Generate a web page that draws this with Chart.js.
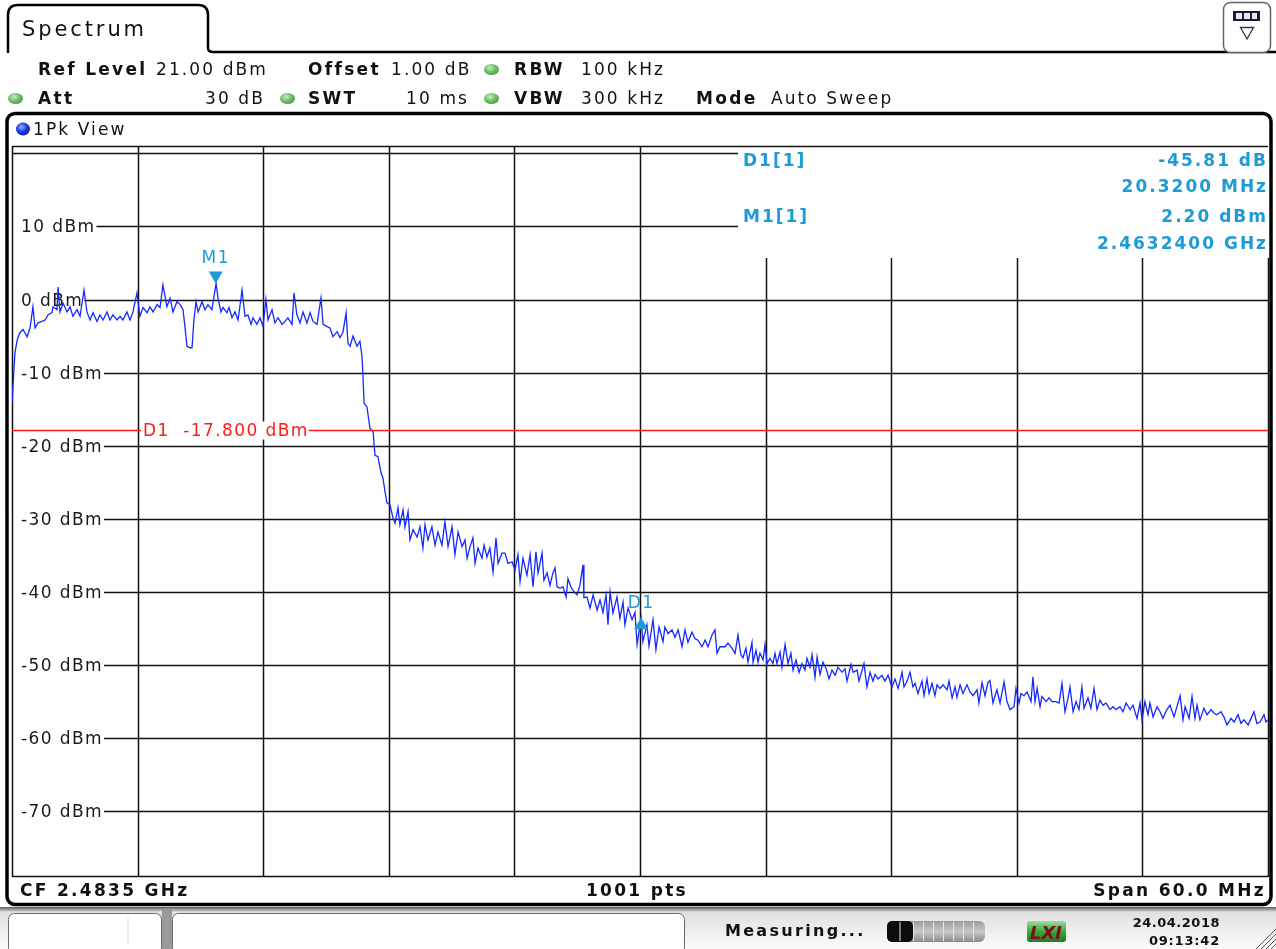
<!DOCTYPE html>
<html><head><meta charset="utf-8">
<script src="https://cdn.jsdelivr.net/npm/chart.js@4.4.1/dist/chart.umd.min.js"></script>
<style>
html,body{margin:0;padding:0;background:#fff;width:1276px;height:949px;overflow:hidden;font-family:"DejaVu Sans",sans-serif;}
#chrome,#cv,#txt{position:absolute;left:0;top:0;}
#txt{width:1276px;height:949px;pointer-events:none;}
.t{position:absolute;font-size:17px;letter-spacing:2.1px;line-height:20px;height:20px;color:#111;white-space:nowrap;}
.b{font-weight:bold;letter-spacing:2.3px;}
.dot{position:absolute;width:15px;height:11px;border-radius:50%;background:radial-gradient(ellipse at 40% 35%,#c8ecc4 0%,#6cbc66 45%,#3c8a38 100%);}
</style></head>
<body>
<svg id="chrome" width="1276" height="949">
  <defs>
    <linearGradient id="bar" x1="0" y1="0" x2="0" y2="1">
      <stop offset="0" stop-color="#5a5a5a"/><stop offset="0.12" stop-color="#e0e0e0"/><stop offset="1" stop-color="#fbfbfb"/>
    </linearGradient>
    <linearGradient id="prog" x1="0" y1="0" x2="0" y2="1">
      <stop offset="0" stop-color="#9a9a9a"/><stop offset="0.5" stop-color="#c9c9c9"/><stop offset="1" stop-color="#8a8a8a"/>
    </linearGradient>
    <linearGradient id="lxi" x1="0" y1="0" x2="0" y2="1">
      <stop offset="0" stop-color="#9be09b"/><stop offset="0.5" stop-color="#3aa93a"/><stop offset="1" stop-color="#1f7d1f"/>
    </linearGradient>
    <radialGradient id="bdot" cx="0.4" cy="0.35" r="0.7">
      <stop offset="0" stop-color="#9db4ff"/><stop offset="0.5" stop-color="#1f3cf0"/><stop offset="1" stop-color="#0a1a9a"/>
    </radialGradient>
  </defs>
  <path d="M8,53 V15 Q8,5 18,5 H198 Q208,5 208,15 V48 Q208,52 213,52 H1276" fill="none" stroke="#000" stroke-width="2.5"/>
  <rect x="1223.5" y="2.5" width="47" height="50" rx="7" fill="#fff" stroke="#666" stroke-width="1.5"/>
  <rect x="1233" y="11" width="27" height="10" fill="#1a1a3a"/>
  <rect x="1236" y="13" width="6" height="6" fill="#e8e8f0"/>
  <rect x="1244" y="13" width="6" height="6" fill="#e8e8f0"/>
  <rect x="1252" y="13" width="5" height="6" fill="#e8e8f0"/>
  <path d="M1240.5,27.5 H1253.5 L1247,39 Z" fill="#fff" stroke="#334" stroke-width="1.3"/>
  <rect x="7" y="113.5" width="1264" height="791" rx="8" fill="none" stroke="#000" stroke-width="3.5"/>
  <ellipse cx="23" cy="129" rx="7" ry="6.5" fill="url(#bdot)"/>
  <rect x="0" y="907" width="1276" height="42" fill="url(#bar)"/>
  <rect x="162" y="910" width="10" height="39" fill="#9a9a9a"/>
  <rect x="8.5" y="913.5" width="153" height="40" rx="6" fill="#fff" stroke="#6a6a6a"/>
  <line x1="128" y1="918" x2="128" y2="945" stroke="#d8d8d8"/>
  <rect x="172.5" y="913.5" width="512" height="40" rx="6" fill="#fff" stroke="#6a6a6a"/>
  <rect x="887" y="921" width="98" height="21" rx="6" fill="url(#prog)"/>
  <rect x="887" y="921" width="26" height="21" rx="5" fill="#0c0c0c"/>
  <g stroke="#e6e6e6" stroke-width="1">
    <line x1="900" y1="922" x2="900" y2="941"/><line x1="913.5" y1="922" x2="913.5" y2="941"/>
    <line x1="923.5" y1="922" x2="923.5" y2="941"/><line x1="933.5" y1="922" x2="933.5" y2="941"/>
    <line x1="943.5" y1="922" x2="943.5" y2="941"/><line x1="953.5" y1="922" x2="953.5" y2="941"/>
    <line x1="963.5" y1="922" x2="963.5" y2="941"/><line x1="973.5" y1="922" x2="973.5" y2="941"/>
  </g>
  <rect x="1027" y="921" width="39" height="21" rx="3" fill="url(#lxi)"/>
  <text x="1046" y="939" text-anchor="middle" font-family="DejaVu Sans" font-weight="bold" font-style="italic" font-size="18" fill="#7a1020">LXI</text>
  <g stroke="#555" stroke-width="1">
    <line x1="1256" y1="949" x2="1276" y2="929"/><line x1="1261" y1="949" x2="1276" y2="934"/>
    <line x1="1266" y1="949" x2="1276" y2="939"/><line x1="1271" y1="949" x2="1276" y2="944"/>
  </g>
</svg>
<canvas id="cv" width="1276" height="949"></canvas>
<div id="txt"></div>
<script>
// ---- instrument settings ----
const startFreqGHz = 2.4535;
const spanMHz = 60;
const refLevelDbm = 21;
const bottomLevelDbm = -79;
const displayLineDbm = -17.8;

// ---- grid / tick labels ----
const xGridMHz = [0, 6, 12, 18, 24, 30, 36, 42, 48, 54, 60];
const yGridDbm = [20, 10, 0, -10, -20, -30, -40, -50, -60, -70];
const yTickLabels = ['', '10 dBm', '0 dBm', '-10 dBm', '-20 dBm', '-30 dBm', '-40 dBm', '-50 dBm', '-60 dBm', '-70 dBm'];

// ---- trace (1Pk, offset from start frequency in MHz, level in dBm) ----
const freqOffsetMHz = [
0.00,0.14,0.25,0.38,0.53,0.72,0.86,1.00,1.10,1.24,1.43,1.58,1.72,1.91,1.96,2.15,2.20,2.29,2.44,2.63,2.77,2.91,3.11,3.25,3.44,3.58,3.73,3.87,4.06,4.20,4.35,4.54,4.68,4.82,5.02,5.16,5.30,5.49,5.64,5.78,5.97,6.11,6.26,6.45,6.59,6.74,6.93,7.07,7.21,7.40,7.55,7.69,7.88,
8.03,8.17,8.26,8.36,8.50,8.60,8.69,8.79,8.89,9.08,9.22,9.36,9.55,9.75,9.84,9.98,10.08,10.27,10.37,10.51,10.65,10.80,10.99,11.13,11.27,11.42,11.51,11.70,11.85,11.99,12.13,12.23,12.42,12.56,12.71,12.90,13.04,13.18,13.38,13.47,13.61,13.76,13.90,14.09,14.24,14.38,14.57,14.76,14.86,15.05,15.19,15.33,15.53,15.67,15.81,
15.96,16.05,16.15,16.29,16.48,16.62,16.72,16.77,16.82,16.96,17.01,17.10,17.25,17.34,17.48,17.63,17.72,17.82,17.91,18.06,18.20,18.30,18.44,18.53,18.68,18.77,18.92,19.01,19.16,19.35,19.49,19.63,19.73,19.87,20.06,20.21,20.35,20.54,20.68,20.83,21.02,21.16,21.31,21.50,21.64,21.74,21.88,22.02,22.12,22.26,22.45,22.55,22.69,22.83,22.98,23.12,23.22,
23.41,23.55,23.69,23.89,24.03,24.17,24.27,24.41,24.60,24.75,24.89,25.03,25.13,25.32,25.41,25.56,25.70,25.84,25.94,26.04,26.18,26.32,26.47,26.56,26.70,26.80,26.99,27.13,27.28,27.32,27.47,27.61,27.76,27.95,28.09,28.23,28.38,28.47,28.57,28.71,28.90,29.04,29.19,29.28,29.43,29.62,29.76,29.86,30.05,30.14,30.33,30.43,30.62,30.76,30.91,31.10,31.19,31.34,31.53,31.67,31.82,32.01,32.15,32.29,32.48,32.63,32.77,32.96,33.11,33.25,33.44,33.58,33.68,
33.82,34.06,34.20,34.39,34.54,34.68,34.82,34.92,35.06,35.16,35.35,35.40,35.54,35.64,35.73,35.88,35.97,36.07,36.21,36.35,36.45,36.54,36.69,36.78,36.93,37.07,37.21,37.31,37.45,37.60,37.74,37.88,37.98,38.12,38.22,38.36,38.46,38.60,38.74,38.89,39.03,39.17,39.32,39.46,39.65,39.79,39.89,40.08,40.18,40.37,40.46,40.61,40.70,40.84,40.99,41.13,41.23,41.37,41.56,41.70,41.85,42.04,42.18,42.33,42.52,42.61,42.76,42.90,43.04,43.14,43.28,43.47,43.57,43.71,43.81,43.95,44.09,44.19,44.33,44.48,44.67,44.76,44.91,45.05,45.14,45.29,45.43,45.62,45.77,45.91,46.10,
46.19,46.34,46.48,46.62,46.72,46.86,47.05,47.20,47.39,47.53,47.68,47.87,47.96,48.11,48.20,48.34,48.49,48.68,48.77,48.87,48.97,49.11,49.20,49.40,49.54,49.68,49.87,50.02,50.16,50.30,50.45,50.54,50.69,50.83,50.97,51.11,51.21,51.40,51.54,51.69,51.83,51.97,52.12,52.26,52.45,52.60,52.74,52.93,53.07,53.22,53.41,53.55,53.74,53.89,53.98,54.12,54.27,54.36,54.51,54.70,54.84,54.98,55.17,55.32,55.51,55.65,55.80,55.94,56.04,56.23,56.37,56.51,56.61,56.75,56.94,57.09,57.28,57.42,57.56,57.75,57.90,58.04,58.23,58.38,58.57,58.71,58.85,59.05,59.19,59.33,59.47,59.62,59.81,59.90,60.00
];
const levelDbm = [
-14.2,-7.3,-5.5,-4.5,-4.1,-5.1,-3.9,-1.0,-3.9,-3.2,-3.0,-2.8,-2.1,-1.8,-1.0,-1.4,1.7,-1.7,-0.5,-1.7,-1.0,-2.3,-1.4,-2.3,1.3,-1.7,-2.8,-1.8,-3.0,-2.1,-2.8,-1.7,-2.8,-2.1,-2.8,-2.3,-2.8,-1.7,-2.8,-1.7,0.9,-2.3,-1.1,-1.8,-1.0,-1.7,-0.7,-1.1,2.0,-1.0,0.2,-1.7,-0.3,
-0.7,-1.4,-3.7,-6.4,-6.6,-6.6,-2.8,-0.3,-1.7,-0.3,-1.4,-0.7,-1.4,2.2,0.2,-1.7,-1.1,-1.8,-1.1,-2.5,-1.7,-2.8,1.3,-2.3,-2.1,-3.4,-2.5,-3.4,-2.5,-3.7,0.0,-2.8,-1.4,-3.2,-2.5,-3.4,-3.0,-2.5,-3.4,0.9,-2.1,-3.2,-1.7,-3.2,-1.8,-3.0,-3.4,0.2,-3.4,-3.7,-3.9,-5.1,-4.4,-5.2,-4.5,
-1.8,-6.0,-6.4,-5.0,-6.4,-5.7,-7.8,-10.7,-14.2,-14.7,-15.8,-17.6,-18.1,-21.3,-21.5,-23.7,-24.4,-26.3,-27.8,-28.1,-29.9,-30.6,-28.5,-30.8,-28.8,-31.1,-29.0,-32.9,-31.5,-32.5,-31.1,-34.0,-30.8,-32.9,-31.1,-33.6,-31.8,-33.6,-30.4,-33.8,-31.1,-34.9,-31.8,-33.8,-32.9,-35.4,-33.8,-32.6,-36.1,-34.0,-35.4,-33.6,-35.2,-34.0,-37.3,-32.6,-36.1,
-34.7,-34.7,-36.1,-35.9,-37.0,-34.9,-38.6,-35.4,-37.7,-34.9,-39.3,-34.5,-37.4,-34.7,-38.4,-37.4,-39.1,-37.4,-36.7,-39.3,-39.5,-39.3,-40.7,-38.2,-39.3,-39.8,-40.4,-39.1,-36.3,-40.8,-40.7,-42.2,-40.4,-42.5,-41.1,-42.8,-40.4,-44.5,-40.0,-42.9,-40.7,-43.6,-41.4,-44.5,-42.2,-43.8,-42.8,-47.2,-43.6,-46.8,-44.5,-47.4,-43.8,-47.9,-44.8,-46.8,-44.8,-45.7,-45.2,-46.2,-45.2,-47.5,-45.2,-46.9,-45.5,-46.4,-46.6,-47.5,-46.6,-47.5,-45.9,-45.2,-48.4,
-47.5,-47.5,-47.0,-47.7,-48.4,-45.9,-48.6,-49.0,-47.7,-49.6,-46.9,-49.6,-48.0,-49.6,-48.4,-49.3,-47.2,-49.8,-49.1,-49.8,-48.4,-49.8,-48.2,-50.3,-47.2,-49.8,-48.4,-50.7,-49.3,-51.0,-49.8,-50.7,-49.1,-50.3,-48.6,-51.7,-48.9,-51.3,-49.6,-50.5,-51.9,-50.7,-51.4,-50.3,-51.0,-50.5,-52.2,-49.9,-51.0,-50.7,-52.2,-50.7,-49.8,-53.0,-51.0,-52.2,-51.3,-51.9,-51.4,-52.2,-51.4,-53.0,-51.9,-53.2,-51.0,-53.0,-52.2,-51.0,-53.0,-52.5,-53.9,-52.2,-54.2,-51.9,-53.9,-52.5,-54.2,-52.7,-53.2,-52.7,-53.4,-52.2,-54.5,-53.0,-54.4,-52.7,-53.9,-52.7,-53.7,-54.2,-53.4,
-55.2,-52.4,-54.2,-52.4,-52.1,-55.2,-53.4,-55.2,-52.3,-55.0,-56.1,-55.7,-53.2,-55.2,-53.9,-54.2,-53.7,-55.0,-51.6,-55.0,-53.2,-55.7,-54.3,-55.0,-54.5,-55.0,-55.0,-55.2,-52.5,-56.4,-54.5,-53.0,-56.4,-55.0,-56.1,-53.0,-55.9,-54.5,-55.9,-53.2,-56.1,-54.8,-55.5,-55.2,-56.1,-55.7,-56.1,-55.7,-56.4,-55.2,-56.1,-55.5,-57.3,-55.2,-57.5,-55.0,-56.8,-55.2,-57.1,-55.7,-56.4,-57.3,-56.1,-55.5,-57.1,-55.7,-54.2,-57.5,-55.7,-57.3,-54.3,-57.3,-55.5,-57.5,-55.9,-56.8,-56.1,-56.6,-56.8,-56.4,-57.1,-58.2,-57.3,-57.8,-56.8,-58.0,-57.5,-58.2,-57.3,-56.4,-58.0,-57.8,-56.8,-57.8,-57.5
];

// ---- markers ----
const markerNames = ['M1', 'D1'];
const markerOffsetMHz = [9.7324, 30.0524];
const markerLevelDbm = [2.20, -43.61];
const markerInfoLeft = ['D1[1]', '', 'M1[1]', ''];
const markerInfoRight = ['-45.81 dB', '20.3200 MHz', '2.20 dBm', '2.4632400 GHz'];
const displayLineLabel = 'D1  -17.800 dBm';

// ---- header / footer texts ----
const headerTexts = [
  {t:'Spectrum', x:22, y:29, size:21, ls:2.9},
  {t:'Ref Level', x:38, y:69, b:1}, {t:'21.00 dBm', x:156, y:69},
  {t:'Offset', x:308, y:69, b:1}, {t:'1.00 dB', x:391, y:69},
  {t:'RBW', x:514, y:69, b:1}, {t:'100 kHz', x:581, y:69},
  {t:'Att', x:38, y:98, b:1}, {t:'30 dB', r:265, y:98},
  {t:'SWT', x:308, y:98, b:1}, {t:'10 ms', r:469, y:98},
  {t:'VBW', x:514, y:98, b:1}, {t:'300 kHz', x:581, y:98},
  {t:'Mode', x:696, y:98, b:1}, {t:'Auto Sweep', x:771, y:98},
  {t:'1Pk View', x:33, y:129},
  {t:'CF 2.4835 GHz', x:20, y:890, b:1}, {t:'1001 pts', c:637, y:890, b:1}, {t:'Span 60.0 MHz', r:1266, y:890, b:1},
  {t:'Measuring...', x:725, y:931, b:1, size:16},
  {t:'24.04.2018', r:1220, y:923, b:1, size:13, ls:0.5}, {t:'09:13:42', r:1220, y:941, b:1, size:13, ls:0.8}
];
const dotCenters = [[491,69],[15,98],[287,98],[491,98]];

const txt = document.getElementById('txt');
headerTexts.forEach(o => {
  const d = document.createElement('div');
  d.className = 't' + (o.b ? ' b' : '');
  d.textContent = o.t;
  if (o.size) d.style.fontSize = o.size + 'px';
  if (o.ls !== undefined) d.style.letterSpacing = o.ls + 'px';
  d.style.top = (o.y - 10) + 'px';
  if (o.x !== undefined) d.style.left = o.x + 'px';
  if (o.r !== undefined) { d.style.right = (1276 - o.r) + 'px'; }
  if (o.c !== undefined) { d.style.left = o.c + 'px'; d.style.transform = 'translateX(-50%)'; }
  txt.appendChild(d);
});
dotCenters.forEach(([x, y]) => {
  const d = document.createElement('div');
  d.className = 'dot';
  d.style.left = (x - 7.5) + 'px'; d.style.top = (y - 5.5) + 'px';
  txt.appendChild(d);
});

const GRID = '#111';
const MK = '#1e9ad6';
const RED = '#ff1a1a';
const infoBoxLeftPx = 726;   // offset from chart left
const infoBoxBottomPx = 112; // offset from chart top

function hline(ctx, x0, x1, y) { ctx.beginPath(); ctx.moveTo(x0, y); ctx.lineTo(x1, y); ctx.stroke(); }
function vline(ctx, x, y0, y1) { ctx.beginPath(); ctx.moveTo(x, y0); ctx.lineTo(x, y1); ctx.stroke(); }

const specPlugin = {
  id: 'spec',
  beforeDatasetsDraw(chart) {
    const {ctx, chartArea: a, scales: {x, y}} = chart;
    const boxL = a.left + infoBoxLeftPx, boxB = a.top + infoBoxBottomPx;
    ctx.save();
    ctx.fillStyle = '#fff';
    ctx.fillRect(a.left, a.top, a.right - a.left, a.bottom - a.top);
    ctx.strokeStyle = GRID; ctx.lineWidth = 1.5;
    xGridMHz.forEach(v => {
      const px = Math.round(x.getPixelForValue(v)) + 0.5;
      const top = px > boxL ? boxB : a.top;
      vline(ctx, px, top, a.bottom);
    });
    ctx.font = '17px "DejaVu Sans"';
    ctx.letterSpacing = '1.4px';
    ctx.textBaseline = 'middle';
    ctx.textAlign = 'left';
    yGridDbm.forEach((v, i) => {
      const py = Math.round(y.getPixelForValue(v)) + 0.5;
      let x0 = a.left;
      const lab = yTickLabels[i];
      if (lab) {
        ctx.fillStyle = '#1a1a1a';
        ctx.fillText(lab, a.left + 9, py + 1);
        x0 = a.left + 9 + ctx.measureText(lab).width + 1;
      }
      const x1 = py < boxB ? boxL : a.right;
      hline(ctx, x0, x1, py);
    });
    hline(ctx, a.left, a.right, a.top + 0.5);
    hline(ctx, a.left, a.right, a.bottom - 0.5);
    ctx.restore();
  },
  afterDatasetsDraw(chart) {
    const {ctx, chartArea: a, scales: {x, y}} = chart;
    ctx.save();
    const ly = Math.round(y.getPixelForValue(displayLineDbm)) + 0.5;
    ctx.strokeStyle = RED; ctx.lineWidth = 1.3;
    hline(ctx, a.left, a.right, ly);
    ctx.font = '17px "DejaVu Sans"';
    ctx.letterSpacing = '1.4px';
    ctx.textBaseline = 'middle';
    ctx.textAlign = 'left';
    const lx = a.left + 131;
    const lw = ctx.measureText(displayLineLabel).width;
    ctx.fillStyle = '#fff';
    ctx.fillRect(lx - 2, ly - 9, lw + 2, 18);
    ctx.fillStyle = RED;
    ctx.fillText(displayLineLabel, lx, ly + 1);

    markerNames.forEach((n, i) => {
      const mx = x.getPixelForValue(markerOffsetMHz[i]);
      const my = y.getPixelForValue(markerLevelDbm[i]);
      ctx.fillStyle = MK;
      ctx.beginPath();
      ctx.textAlign = 'center';
      if (i === 0) {
        ctx.moveTo(mx - 7, my - 12); ctx.lineTo(mx + 7, my - 12); ctx.lineTo(mx, my);
        ctx.closePath(); ctx.fill();
        ctx.fillText(n, mx, my - 25);
      } else {
        ctx.moveTo(mx, my - 1); ctx.lineTo(mx + 7, my + 11); ctx.lineTo(mx - 7, my + 11);
        ctx.closePath(); ctx.fill();
        ctx.fillText(n, mx, my - 15);
      }
    });

    ctx.font = 'bold 17px "DejaVu Sans"';
    ctx.letterSpacing = '2px';
    ctx.fillStyle = MK;
    const rowsY = [16, 42, 72, 99];
    rowsY.forEach((ry, i) => {
      if (markerInfoLeft[i]) { ctx.textAlign = 'left'; ctx.fillText(markerInfoLeft[i], a.left + 731, a.top + ry); }
      ctx.textAlign = 'right';
      ctx.fillText(markerInfoRight[i], a.right, a.top + ry);
    });
    ctx.restore();
  }
};

new Chart(document.getElementById('cv'), {
  type: 'line',
  data: {
    datasets: [{
      label: '1Pk View',
      data: freqOffsetMHz.map((f, i) => ({x: f, y: levelDbm[i]})),
      borderColor: '#1428ff',
      borderWidth: 1.3,
      pointRadius: 0,
      tension: 0,
      fill: false
    }]
  },
  options: {
    responsive: false,
    animation: false,
    devicePixelRatio: 1,
    layout: {padding: {left: 12, top: 146, right: 8, bottom: 72}},
    plugins: {legend: {display: false}, tooltip: {enabled: false}},
    scales: {
      x: {type: 'linear', min: 0, max: spanMHz, display: false},
      y: {type: 'linear', min: bottomLevelDbm, max: refLevelDbm, display: false}
    }
  },
  plugins: [specPlugin]
});
</script>
</body></html>
